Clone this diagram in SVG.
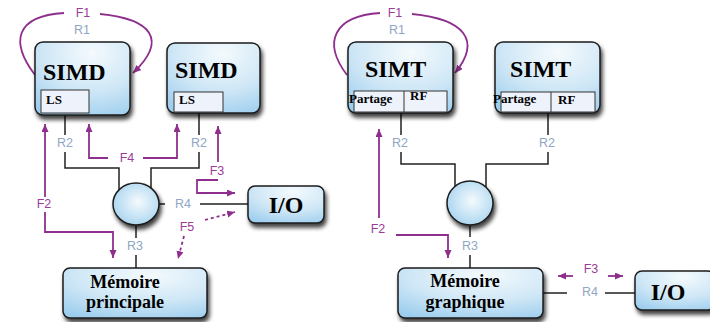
<svg xmlns="http://www.w3.org/2000/svg" width="710" height="322" viewBox="0 0 710 322">
<defs>
<radialGradient id="gBox" cx="0.6" cy="0.15" r="0.95">
<stop offset="0" stop-color="#f4fafd"/>
<stop offset="0.55" stop-color="#cfe7f6"/>
<stop offset="1" stop-color="#9ccdee"/>
</radialGradient>
<radialGradient id="gEll" cx="0.55" cy="0.45" r="0.6">
<stop offset="0" stop-color="#f4fafd"/>
<stop offset="1" stop-color="#a8d4ef"/>
</radialGradient>
<filter id="sh" x="-10%" y="-10%" width="130%" height="140%">
<feDropShadow dx="2" dy="4" stdDeviation="2" flood-color="#000" flood-opacity="0.75"/>
</filter>
<marker id="ah" markerUnits="userSpaceOnUse" markerWidth="9" markerHeight="8" refX="8" refY="3.5" orient="auto">
<path d="M0,0 L8,3.5 L0,7 z" fill="#8e2f8e"/>
</marker>
</defs>
<style>
.box{fill:url(#gBox);stroke:#1c1c1c;stroke-width:1.5;filter:url(#sh)}
.ell{fill:url(#gEll);stroke:#1c1c1c;stroke-width:1.5;filter:url(#sh)}
.sub{fill:#eef2fb;stroke:#333;stroke-width:1}
.big{font-family:"Liberation Serif",serif;font-weight:bold;fill:#000}
.t24{font-size:24px}
.t18{font-size:18px}
.t13{font-size:13px}
.lab{font-family:"Liberation Sans",sans-serif;font-size:12.5px;text-anchor:middle}
.f{fill:#9a3c9a}
.r{fill:#8fa6c4}
.bl{fill:none;stroke:#222;stroke-width:1.5}
.pl{fill:none;stroke:#8e2f8e;stroke-width:1.8}
.pa{fill:none;stroke:#8e2f8e;stroke-width:1.8;marker-end:url(#ah)}
.pd{fill:none;stroke:#8e2f8e;stroke-width:1.8;stroke-dasharray:3,3;marker-end:url(#ah)}
</style>
<rect width="710" height="322" fill="#fff"/>

<g id="connectors">
<path class="bl" d="M65,113 L65,135 M65,152 L65,168 L119,168 L119,190"/>
<path class="bl" d="M199,112 L199,135 M199,152 L199,168 L151,168 L151,190"/>
<path class="bl" d="M159,204 L165,204 M200,204 L248,204"/>
<path class="bl" d="M136,225 L136,238 M136,255 L136,268"/>
<path class="bl" d="M401,112 L401,135 M401,152 L401,164 L455,164 L455,190"/>
<path class="bl" d="M548,112 L548,135 M548,152 L548,164 L486,164 L486,190"/>
<path class="bl" d="M470,225 L470,237 M470,255 L470,268"/>
<path class="bl" d="M543,293 L567,293 M605,293 L637,293"/>
<path class="pl" d="M35,75 C10,42 15,16 64,13"/>
<path class="pa" d="M100,14 C152,19 168,40 133,73"/>
<path class="pa" d="M45,197 L45,124"/>
<path class="pa" d="M45,212 L45,232 L113,232 L113,258"/>
<path class="pa" d="M108,158 L89,158 L89,124"/>
<path class="pa" d="M143,158 L177,158 L177,124"/>
<path class="pa" d="M218,162 L218,126"/>
<path class="pa" d="M218,180 L197,180 L197,193 L235,193"/>
<path class="pd" d="M205,220 L235,212"/>
<path class="pd" d="M184,236 L178,259"/>
<path class="pl" d="M347,75 C322,42 334,16 380,13"/>
<path class="pa" d="M412,14 C464,19 482,40 455,73"/>
<path class="pa" d="M379,218 L379,129"/>
<path class="pa" d="M396,235 L448,235 L448,258"/>
<path class="pa" d="M573,276 L558,276"/>
<path class="pa" d="M608,276 L623,276"/>
</g>

<g id="labels">
<text class="lab f" x="83" y="17">F1</text>
<text class="lab r" x="82" y="34">R1</text>
<text class="lab r" x="65" y="147">R2</text>
<text class="lab r" x="199" y="147">R2</text>
<text class="lab f" x="127" y="162">F4</text>
<text class="lab f" x="44" y="208">F2</text>
<text class="lab f" x="217" y="175">F3</text>
<text class="lab r" x="183" y="208">R4</text>
<text class="lab f" x="187" y="231">F5</text>
<text class="lab r" x="135" y="250">R3</text>
<text class="lab f" x="395" y="17">F1</text>
<text class="lab r" x="397" y="34">R1</text>
<text class="lab r" x="400" y="147">R2</text>
<text class="lab r" x="547" y="147">R2</text>
<text class="lab f" x="378" y="233">F2</text>
<text class="lab r" x="470" y="250">R3</text>
<text class="lab f" x="591" y="273">F3</text>
<text class="lab r" x="590" y="296">R4</text>
</g>

<g id="simd1">
<rect class="box" x="35" y="42" width="95" height="73" rx="8"/>
<rect class="sub" x="41" y="90" width="48" height="23"/>
<text class="big t24" x="43" y="80">SIMD</text>
<text class="big t13" x="46" y="104">LS</text>
</g>
<g id="simd2">
<rect class="box" x="167" y="43" width="93" height="70" rx="8"/>
<rect class="sub" x="174" y="92" width="49" height="20"/>
<text class="big t24" x="175" y="78">SIMD</text>
<text class="big t13" x="179" y="104">LS</text>
</g>
<g id="switch1">
<ellipse class="ell" cx="136" cy="204" rx="23" ry="21"/>
</g>
<g id="io1">
<rect class="box" x="248" y="186" width="76" height="37" rx="7"/>
<text class="big t24" x="286" y="213" text-anchor="middle">I/O</text>
</g>
<g id="mem1">
<rect class="box" x="63" y="268" width="144" height="50" rx="7"/>
<text class="big t18" x="125" y="288" text-anchor="middle">Mémoire</text>
<text class="big t18" x="125" y="308" text-anchor="middle">principale</text>
</g>

<g id="simt1">
<rect class="box" x="348" y="42" width="105" height="71" rx="8"/>
<rect class="sub" x="354" y="91" width="93" height="21"/>
<line x1="404" y1="91" x2="404" y2="112" stroke="#333" stroke-width="1"/>
<text class="big t24" x="365" y="77">SIMT</text>
<text class="big t13" x="349" y="103">Partage</text>
<text class="big t13" x="410" y="100">RF</text>
</g>
<g id="simt2">
<rect class="box" x="495" y="42" width="105" height="71" rx="8"/>
<rect class="sub" x="501" y="92" width="94" height="20"/>
<line x1="551" y1="92" x2="551" y2="112" stroke="#333" stroke-width="1"/>
<text class="big t24" x="510" y="77">SIMT</text>
<text class="big t13" x="493" y="103">Partage</text>
<text class="big t13" x="558" y="104">RF</text>
</g>
<g id="switch2">
<ellipse class="ell" cx="470" cy="203" rx="23" ry="22"/>
</g>
<g id="mem2">
<rect class="box" x="398" y="268" width="145" height="50" rx="7"/>
<text class="big t18" x="465" y="287" text-anchor="middle">Mémoire</text>
<text class="big t18" x="465" y="308" text-anchor="middle">graphique</text>
</g>
<g id="io2">
<rect class="box" x="635" y="271" width="80" height="39" rx="7"/>
<text class="big t24" x="668" y="300" text-anchor="middle">I/O</text>
</g>
</svg>
